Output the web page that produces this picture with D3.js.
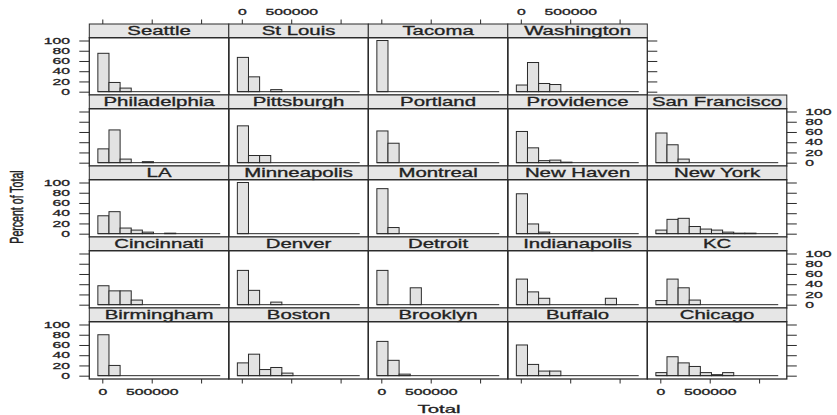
<!DOCTYPE html>
<html lang="en">
<head>
<meta charset="UTF-8">
<title>Percent of Total by city</title>
<script src="https://d3js.org/d3.v7.min.js"></script>
<style>
  body { margin: 0; background: #fff; }
  svg text { font-family: "Liberation Sans", Arial, sans-serif; fill: #222; stroke: #222; stroke-width: 0.3; }
</style>
</head>
<body>
<svg id="chart" width="837" height="415"></svg>
<script>
// panel names, top row first (lattice fills from the bottom left)
const cities = [
  ["Seattle", "St Louis", "Tacoma", "Washington"],
  ["Philadelphia", "Pittsburgh", "Portland", "Providence", "San Francisco"],
  ["LA", "Minneapolis", "Montreal", "New Haven", "New York"],
  ["Cincinnati", "Denver", "Detroit", "Indianapolis", "KC"],
  ["Birmingham", "Boston", "Brooklyn", "Buffalo", "Chicago"]
];

// histogram breaks of Total, 11 bins
const breaks = [-45000, 67600, 180200, 292800, 405400, 518000, 630600, 743200, 855800, 968400, 1081000, 1193600];

// percent of total in each bin
const percents = {
  "Seattle":       [75, 18, 7, 0, 0, 0, 0, 0, 0, 0, 0],
  "St Louis":      [67, 29, 0, 4, 0, 0, 0, 0, 0, 0, 0],
  "Tacoma":        [100, 0, 0, 0, 0, 0, 0, 0, 0, 0, 0],
  "Washington":    [13, 57, 16, 14, 0, 0, 0, 0, 0, 0, 0],
  "Philadelphia":  [27, 64, 7, 0, 2, 0, 0, 0, 0, 0, 0],
  "Pittsburgh":    [72, 14, 14, 0, 0, 0, 0, 0, 0, 0, 0],
  "Portland":      [62, 38, 0, 0, 0, 0, 0, 0, 0, 0, 0],
  "Providence":    [61, 29, 4, 5, 1, 0, 0, 0, 0, 0, 0],
  "San Francisco": [58, 35, 7, 0, 0, 0, 0, 0, 0, 0, 0],
  "LA":            [35, 43, 11, 7, 3, 0, 1, 0, 0, 0, 0],
  "Minneapolis":   [100, 0, 0, 0, 0, 0, 0, 0, 0, 0, 0],
  "Montreal":      [88, 12, 0, 0, 0, 0, 0, 0, 0, 0, 0],
  "New Haven":     [78, 19, 3, 0, 0, 0, 0, 0, 0, 0, 0],
  "New York":      [7, 28, 30, 14, 9, 7, 3, 1, 1, 0, 0],
  "Cincinnati":    [37, 27, 27, 9, 0, 0, 0, 0, 0, 0, 0],
  "Denver":        [67, 28, 0, 5, 0, 0, 0, 0, 0, 0, 0],
  "Detroit":       [67, 0, 0, 33, 0, 0, 0, 0, 0, 0, 0],
  "Indianapolis":  [50, 25, 12.5, 0, 0, 0, 0, 0, 12.5, 0, 0],
  "KC":            [8, 50, 33, 9, 0, 0, 0, 0, 0, 0, 0],
  "Birmingham":    [80, 20, 0, 0, 0, 0, 0, 0, 0, 0, 0],
  "Boston":        [25, 42, 12, 16, 5, 0, 0, 0, 0, 0, 0],
  "Brooklyn":      [67, 30, 3, 0, 0, 0, 0, 0, 0, 0, 0],
  "Buffalo":       [60, 22, 9, 9, 0, 0, 0, 0, 0, 0, 0],
  "Chicago":       [6, 37, 25, 18, 6, 2, 6, 0, 0, 0, 0]
};

const xTicks = [0, 500000, 1000000];
const xTickLabels = ["0", "500000", ""];
const yTicks = [0, 20, 40, 60, 80, 100];

// layout
const x0 = 89.3, y0 = 24;
const colW = 139.5, rowH = 71;
const stripH = 13.7, bodyH = rowH - stripH;
const sx = 1.85;          // the picture is stretched sideways
const dark = "#2a2a2a";

const svg = d3.select("#chart");

const x = d3.scaleLinear().domain([-131600, 1280300]).range([0, colW]);
const y = d3.scaleLinear().domain([-6.5, 105.5]).range([bodyH, 0]);

function styleAxis(g) {
  g.select(".domain").remove();
  g.selectAll("line").attr("stroke", dark).attr("stroke-width", 1);
  g.attr("font-family", null).attr("font-size", 8.5);
  g.selectAll("text").attr("fill", dark);
}

cities.forEach((row, r) => {
  row.forEach((name, c) => {
    const g = svg.append("g")
      .attr("transform", `translate(${x0 + c * colW},${y0 + r * rowH})`);

    // strip
    g.append("rect")
      .attr("width", colW).attr("height", stripH)
      .attr("fill", "#e6e6e6").attr("stroke", dark).attr("stroke-width", 1);
    g.append("text")
      .attr("transform", `translate(${colW / 2},11.2) scale(1.7,1)`)
      .attr("text-anchor", "middle")
      .attr("font-size", 12)
      .text(name);

    const body = g.append("g").attr("transform", `translate(0,${stripH})`);

    // bars
    const vals = percents[name];
    body.selectAll("rect.bar")
      .data(vals.map((v, i) => ({ v, i })).filter(d => d.v > 0))
      .join("rect")
      .attr("class", "bar")
      .attr("x", d => x(breaks[d.i]))
      .attr("width", d => x(breaks[d.i + 1]) - x(breaks[d.i]))
      .attr("y", d => y(d.v))
      .attr("height", d => y(0) - y(d.v))
      .attr("fill", "#e2e2e2")
      .attr("stroke", dark)
      .attr("stroke-width", 1);

    // empty bins show as a flat line
    body.append("line")
      .attr("x1", x(breaks[0])).attr("x2", x(breaks[breaks.length - 1]))
      .attr("y1", y(0)).attr("y2", y(0))
      .attr("stroke", dark).attr("stroke-width", 1);

    body.append("rect")
      .attr("width", colW).attr("height", bodyH)
      .attr("fill", "none").attr("stroke", dark).attr("stroke-width", 1.3);

    // left axis
    if (c === 0) {
      const labelled = r % 2 === 0;
      const ax = body.append("g")
        .call(d3.axisLeft(y).tickValues(yTicks).tickSize(10)
          .tickFormat(labelled ? d3.format("d") : () => ""));
      styleAxis(ax);
      ax.selectAll("text")
        .attr("x", -19.3 / sx)
        .attr("transform", `scale(${sx},1)`);
    }

    // right axis
    if (c === row.length - 1) {
      const labelled = r % 2 === 1;
      const ax = body.append("g")
        .attr("transform", `translate(${colW},0)`)
        .call(d3.axisRight(y).tickValues(yTicks).tickSize(10)
          .tickFormat(labelled ? d3.format("d") : () => ""));
      styleAxis(ax);
      ax.selectAll("text")
        .attr("x", 18.5 / sx)
        .attr("transform", `scale(${sx},1)`);
    }

    // top axis
    if (r === 0) {
      const labelled = c % 2 === 1;
      const ax = g.append("g")
        .call(d3.axisTop(x).tickValues(xTicks).tickSize(4.5)
          .tickFormat((d, i) => labelled ? xTickLabels[i] : ""));
      styleAxis(ax);
      ax.selectAll("text")
        .attr("y", -9).attr("dy", 0)
        .attr("transform", `scale(${sx},1)`);
    }

    // bottom axis
    if (r === cities.length - 1) {
      const labelled = c % 2 === 0;
      const ax = body.append("g")
        .attr("transform", `translate(0,${bodyH})`)
        .call(d3.axisBottom(x).tickValues(xTicks).tickSize(4.5)
          .tickFormat((d, i) => labelled ? xTickLabels[i] : ""));
      styleAxis(ax);
      ax.selectAll("text")
        .attr("y", 16).attr("dy", 0)
        .attr("transform", `scale(${sx},1)`);
    }
  });
});

svg.append("text")
  .attr("transform", `translate(439,412.5) scale(${sx},1)`)
  .attr("text-anchor", "middle")
  .attr("font-size", 11)
  .text("Total");

svg.append("text")
  .attr("transform", "translate(23,207) scale(1.7,1) rotate(-90)")
  .attr("text-anchor", "middle")
  .attr("font-size", 10.6)
  .attr("stroke-width", 0)
  .text("Percent of Total");
</script>
</body>
</html>
